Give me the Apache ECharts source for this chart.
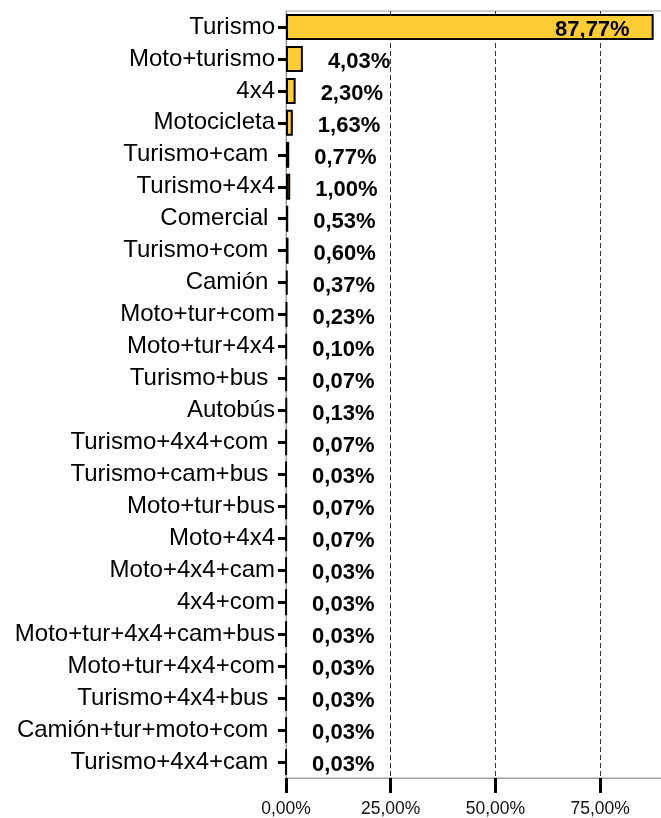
<!DOCTYPE html>
<html>
	<head>
		<meta charset="UTF-8" />
		<title>Tipos de vehículo</title>
		<script src="https://cdn.jsdelivr.net/npm/echarts@6/dist/echarts.min.js"></script>
		<style>
			html, body {
				margin: 0;
				padding: 0;
				background: #fff;
				overflow: hidden;
			}
			/* un poco mas ancho que la ventana: el borde derecho del grafico queda fuera, como en el original */
			#pic {
				width: 670px;
				height: 818px;
			}
		</style>
	</head>
	<body>
		<div id="pic"></div>
		<script>
			// categorias (de arriba a abajo), algunas llevan espacio final como en el original
			var categorias = [
				'Turismo', 'Moto+turismo', '4x4', 'Motocicleta', 'Turismo+cam ', 'Turismo+4x4',
				'Comercial ', 'Turismo+com ', 'Camión ', 'Moto+tur+com', 'Moto+tur+4x4', 'Turismo+bus ',
				'Autobús', 'Turismo+4x4+com ', 'Turismo+cam+bus ', 'Moto+tur+bus', 'Moto+4x4', 'Moto+4x4+cam',
				'4x4+com', 'Moto+tur+4x4+cam+bus', 'Moto+tur+4x4+com', 'Turismo+4x4+bus ', 'Camión+tur+moto+com ', 'Turismo+4x4+cam '
			];
			// porcentajes
			var porcentajes = [
				87.77, 4.03, 2.30, 1.63, 0.77, 1.00,
				0.53, 0.60, 0.37, 0.23, 0.10, 0.07,
				0.13, 0.07, 0.03, 0.07, 0.07, 0.03,
				0.03, 0.03, 0.03, 0.03, 0.03, 0.03
			];
			var ejeMin = 0;
			var ejeMax = 90;
			var ejeIntervalo = 25;

			var fuente = "'Liberation Sans', Arial, sans-serif";

			function fmt(v) {
				return v.toFixed(2).replace('.', ',') + '%';
			}

			var datos = porcentajes.map(function(v) {
				if (v > 50) {
					// la barra grande lleva la etiqueta dentro
					return { value: v, label: { position: 'insideRight', distance: 24 } };
				}
				return v;
			});

			var myChart = echarts.init(document.getElementById('pic'), null, { renderer: 'canvas' });
			myChart.setOption({
				backgroundColor: '#fff',
				animation: false,
				grid: {
					left: 286,
					top: 11,
					width: 377,
					height: 767,
					show: true,
					borderColor: '#a0a0a0',
					borderWidth: 1,
					containLabel: false
				},
				xAxis: {
					type: 'value',
					min: ejeMin,
					max: ejeMax,
					interval: ejeIntervalo,
					axisLine: { show: true, lineStyle: { color: '#a0a0a0', width: 1 } },
					axisTick: { show: true, length: 15, lineStyle: { color: '#000', width: 3 } },
					axisLabel: {
						margin: 22,
						fontFamily: fuente,
						fontSize: 17.5,
						color: '#111',
						showMaxLabel: false,
						formatter: function(v) { return fmt(v); }
					},
					splitLine: {
						show: true,
						showMinLine: false,
						showMaxLine: false,
						lineStyle: { color: '#333', width: 1, type: [5, 3] }
					}
				},
				yAxis: {
					type: 'category',
					inverse: true,
					data: categorias,
					axisLine: { show: true, lineStyle: { color: '#a0a0a0', width: 1 } },
					axisTick: { show: true, alignWithLabel: true, length: 8, lineStyle: { color: '#000', width: 3 } },
					axisLabel: {
						margin: 11,
						fontFamily: fuente,
						fontSize: 24,
						color: '#000',
						interval: 0,
						padding: [9, 0, 0, 0]
					},
					splitLine: { show: false }
				},
				series: [{
					name: 'Tipo',
					type: 'bar',
					data: datos,
					barWidth: 26,
					itemStyle: {
						color: '#FFCC33',
						borderColor: '#000',
						borderWidth: 2
					},
					label: {
						show: true,
						position: 'right',
						distance: 25,
						offset: [0, 3],
						fontFamily: fuente,
						fontSize: 22,
						fontWeight: 'bold',
						color: '#000',
						formatter: function(p) { return fmt(p.value); }
					}
				}]
			});
		</script>
	</body>
</html>
